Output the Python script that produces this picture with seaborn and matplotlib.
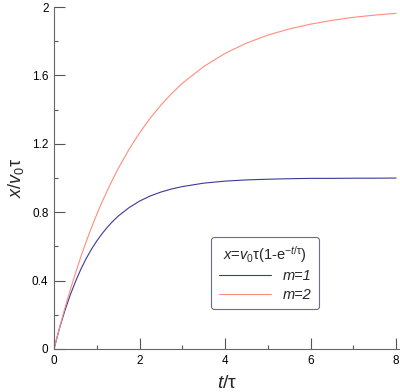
import matplotlib
matplotlib.use("Agg")
import matplotlib.pyplot as plt
import seaborn as sns
import pandas as pd
from matplotlib.ticker import MultipleLocator, FixedLocator
from matplotlib.lines import Line2D

# Data
t_vals = [0, 0.125, 0.25, 0.375, 0.5, 0.625, 0.75, 0.875, 1, 1.125, 1.25, 1.375, 1.5, 1.75,
          2, 2.25, 2.5, 2.75, 3, 3.5, 4, 4.5, 5, 5.5, 6, 6.5, 7, 7.5, 8]
m1_vals = [0, 0.118, 0.221, 0.313, 0.393, 0.465, 0.528, 0.583, 0.632, 0.675, 0.713, 0.747,
           0.777, 0.826, 0.865, 0.895, 0.918, 0.936, 0.950, 0.970, 0.982, 0.989, 0.993,
           0.996, 0.998, 0.998, 0.999, 0.999, 1.0]
m2_vals = [0, 0.121, 0.235, 0.342, 0.442, 0.537, 0.626, 0.709, 0.787, 0.861, 0.929, 0.994,
           1.055, 1.166, 1.264, 1.350, 1.427, 1.494, 1.554, 1.652, 1.729, 1.789, 1.836,
           1.872, 1.900, 1.922, 1.940, 1.953, 1.963]
series_labels = ["m=1", "m=2"]
x_ticks = [0, 2, 4, 6, 8]
y_ticks = [0, 0.4, 0.8, 1.2, 1.6, 2]
y_ticklabels = ["0", "0.4", "0.8", "1.2", "1.6", "2"]

df = pd.concat([
    pd.DataFrame({"t": t_vals, "x": m1_vals, "m": series_labels[0]}),
    pd.DataFrame({"t": t_vals, "x": m2_vals, "m": series_labels[1]}),
])

sns.set_style("white")
plt.rcParams["font.family"] = ["Liberation Sans", "DejaVu Sans"]
plt.rcParams["mathtext.fontset"] = "custom"
plt.rcParams["mathtext.rm"] = "Liberation Sans"
plt.rcParams["mathtext.it"] = "Liberation Sans:italic"
plt.rcParams["mathtext.sf"] = "Liberation Sans"
plt.rcParams["xtick.bottom"] = True
plt.rcParams["ytick.left"] = True

fig = plt.figure(figsize=(4.0, 3.92), dpi=100)
ax = fig.add_axes([0.135, 0.1097, 0.865, 0.8723])

palette = {"m=1": "#3a3a9a", "m=2": "#ff8c80"}
sns.lineplot(data=df, x="t", y="x", hue="m", palette=palette, ax=ax, linewidth=0.8,
             legend=False)

ax.set_xlim(0, 8.09)
ax.set_ylim(0, 2)
ax.xaxis.set_major_locator(FixedLocator(x_ticks))
ax.xaxis.set_minor_locator(MultipleLocator(1))
ax.yaxis.set_major_locator(FixedLocator(y_ticks))
ax.set_yticklabels(y_ticklabels)
ax.yaxis.set_minor_locator(MultipleLocator(0.2))

ax.tick_params(which="both", bottom=True, left=True)
ax.tick_params(which="major", direction="in", length=8, width=0.8, color="#555555",
               labelsize=8.5, pad=4, labelcolor="black")
ax.tick_params(which="minor", direction="in", length=3, width=0.8, color="#555555")

for s in ["top", "right"]:
    ax.spines[s].set_visible(False)
for s in ["left", "bottom"]:
    ax.spines[s].set_color("#666666")
    ax.spines[s].set_linewidth(0.8)

ax.set_xlabel(r"$t/$τ", fontsize=14, labelpad=6)
ax.set_ylabel(r"$x/v_{\mathrm{0}}$τ", fontsize=13, labelpad=4)

handles = [Line2D([], [], color=palette["m=1"], lw=0.8),
           Line2D([], [], color=palette["m=2"], lw=0.8)]
leg = ax.legend(handles, series_labels,
                title=r"$x$=$v_{\mathrm{0}}$τ(1-e$^{-t/\mathrm{\tau}}$)",
                loc="lower left", bbox_to_anchor=(0.455, 0.117), borderaxespad=0,
                fontsize=10.5, title_fontsize=10.5, handlelength=3.6, frameon=True,
                fancybox=True, edgecolor="#6a6a9a", framealpha=1,
                markerfirst=True, borderpad=0.5, labelspacing=0.3, handletextpad=0.8)
leg.get_frame().set_linewidth(0.8)
for txt in leg.get_texts():
    txt.set_fontstyle("italic")

fig.savefig("out.png", dpi=100)
